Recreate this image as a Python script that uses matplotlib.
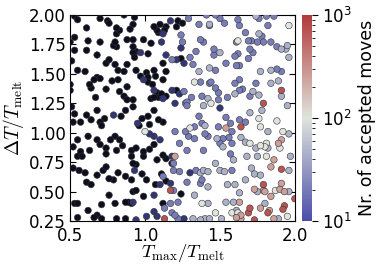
import numpy as np
import matplotlib
matplotlib.use('Agg')
import matplotlib.pyplot as plt
from matplotlib.colors import LinearSegmentedColormap, LogNorm
import matplotlib.cm as cm

plt.rcParams['mathtext.fontset'] = 'cm'

# category -> number of accepted moves (approximate, read from colour)
level = {'k': 1.5, 'n': 5, 'b': 20, 'l': 45, 'g': 100, 'p': 250, 'r': 700}

# (T_max/T_melt, dT/T_melt, colour category)
pts = [
    (0.53, 1.99, 'k'), (0.55, 1.96, 'k'), (0.50, 1.77, 'k'), (0.53, 1.81, 'k'), (0.62, 1.78, 'k'),
    (0.61, 1.89, 'k'), (0.70, 1.97, 'k'), (0.75, 1.95, 'k'), (0.76, 1.93, 'k'), (0.81, 1.89, 'k'),
    (0.83, 1.87, 'k'), (0.81, 1.84, 'k'), (0.86, 2.00, 'k'), (0.93, 1.98, 'k'), (0.90, 1.88, 'k'),
    (0.80, 1.77, 'k'), (0.79, 1.74, 'k'), (0.81, 1.73, 'k'), (0.70, 1.77, 'k'), (0.92, 1.79, 'k'),
    (0.92, 1.73, 'k'), (0.99, 1.79, 'k'), (1.06, 1.90, 'k'), (1.08, 1.87, 'k'), (1.09, 1.85, 'k'),
    (1.10, 1.92, 'k'), (1.13, 1.87, 'k'), (1.12, 1.84, 'n'), (1.14, 1.90, 'k'), (1.17, 1.95, 'n'),
    (1.22, 1.95, 'k'), (1.25, 1.93, 'k'), (1.11, 1.77, 'n'), (1.04, 1.76, 'k'), (0.97, 1.68, 'n'),
    (0.94, 1.69, 'k'), (0.53, 1.70, 'k'), (0.51, 1.61, 'k'), (0.55, 1.53, 'k'), (0.60, 1.52, 'k'),
    (0.68, 1.66, 'k'), (0.74, 1.59, 'k'), (0.76, 1.62, 'k'), (0.70, 1.46, 'k'), (0.68, 1.47, 'k'),
    (0.80, 1.58, 'k'), (0.82, 1.53, 'k'), (0.86, 1.52, 'k'), (0.92, 1.68, 'k'), (0.94, 1.53, 'k'),
    (1.01, 1.51, 'k'), (1.02, 1.47, 'k'), (1.06, 1.53, 'k'), (1.07, 1.48, 'k'), (1.12, 1.45, 'k'),
    (1.12, 1.59, 'k'), (1.14, 1.52, 'k'), (1.14, 1.66, 'n'), (1.21, 1.62, 'n'), (1.24, 1.63, 'k'),
    (1.26, 1.59, 'n'), (0.50, 1.36, 'k'), (0.63, 1.41, 'k'), (0.64, 1.38, 'k'), (0.66, 1.45, 'k'),
    (0.74, 1.37, 'k'), (0.78, 1.44, 'k'), (0.82, 1.45, 'k'), (0.83, 1.35, 'k'), (0.86, 1.31, 'k'),
    (0.88, 1.28, 'k'), (0.92, 1.28, 'k'), (0.88, 1.39, 'k'), (0.97, 1.48, 'k'), (0.99, 1.45, 'n'),
    (1.02, 1.43, 'k'), (1.05, 1.41, 'k'), (1.06, 1.36, 'n'), (1.08, 1.34, 'k'), (1.04, 1.29, 'k'),
    (1.06, 1.30, 'k'), (1.09, 1.30, 'k'), (1.12, 1.29, 'n'), (1.14, 1.31, 'k'), (1.21, 1.36, 'k'),
    (1.23, 1.33, 'n'), (1.20, 1.25, 'n'), (1.28, 1.23, 'b'), (0.51, 1.22, 'k'), (0.53, 1.16, 'k'),
    (0.52, 1.09, 'k'), (0.57, 1.09, 'k'), (0.61, 1.15, 'k'), (0.64, 1.11, 'k'), (0.68, 1.19, 'k'),
    (0.70, 1.09, 'k'), (0.73, 1.12, 'k'), (0.71, 1.06, 'k'), (0.79, 1.15, 'n'), (0.84, 1.14, 'k'),
    (0.87, 1.19, 'k'), (0.92, 1.22, 'k'), (0.95, 1.08, 'n'), (0.96, 1.06, 'k'), (0.98, 1.12, 'k'),
    (1.02, 1.14, 'k'), (1.06, 1.19, 'k'), (1.12, 1.09, 'k'), (1.00, 1.01, 'g'), (1.03, 0.99, 'n'),
    (1.06, 0.97, 'n'), (0.55, 0.94, 'k'), (0.62, 0.97, 'k'), (0.63, 0.85, 'k'), (0.57, 0.84, 'k'),
    (0.55, 0.80, 'k'), (0.58, 0.80, 'k'), (0.68, 0.94, 'k'), (0.74, 0.87, 'k'), (0.74, 0.82, 'k'),
    (0.80, 0.97, 'k'), (0.83, 0.94, 'k'), (0.81, 0.85, 'k'), (0.91, 0.85, 'k'), (0.94, 0.87, 'k'),
    (0.99, 0.84, 'k'), (0.99, 0.80, 'k'), (1.03, 0.86, 'k'), (1.18, 0.74, 'k'), (1.20, 0.80, 'p'),
    (0.52, 0.70, 'k'), (0.56, 0.68, 'k'), (0.60, 0.66, 'k'), (0.61, 0.58, 'k'), (0.64, 0.56, 'k'),
    (0.68, 0.64, 'k'), (0.72, 0.68, 'k'), (0.76, 0.61, 'k'), (0.79, 0.60, 'k'), (0.92, 0.74, 'k'),
    (0.94, 0.73, 'k'), (0.93, 0.68, 'n'), (0.98, 0.65, 'k'), (1.01, 0.60, 'k'), (0.94, 0.51, 'k'),
    (0.92, 0.50, 'k'), (1.07, 0.56, 'k'), (1.11, 0.65, 'k'), (1.14, 0.59, 'k'), (1.17, 0.57, 'n'),
    (1.17, 0.51, 'r'), (1.19, 0.51, 'b'), (1.24, 0.48, 'k'), (0.53, 0.40, 'k'), (0.55, 0.40, 'k'),
    (0.55, 0.28, 'k'), (0.62, 0.34, 'k'), (0.66, 0.28, 'k'), (0.68, 0.30, 'k'), (0.76, 0.47, 'k'),
    (0.80, 0.40, 'k'), (0.81, 0.27, 'k'), (0.87, 0.27, 'k'), (0.87, 0.41, 'k'), (0.89, 0.41, 'k'),
    (0.91, 0.40, 'k'), (0.92, 0.41, 'n'), (0.94, 0.26, 'n'), (1.01, 0.29, 'n'), (1.06, 0.47, 'n'),
    (1.06, 0.33, 'n'), (1.08, 0.29, 'n'), (1.12, 0.40, 'k'), (1.13, 0.36, 'b'), (1.13, 0.27, 'r'),
    (1.17, 0.40, 'b'), (1.20, 0.30, 'b'), (1.22, 0.27, 'b'), (1.26, 0.27, 'n'),
    # extra black-region points
    (0.92, 1.92, 'k'), (0.88, 1.79, 'k'), (1.02, 1.67, 'k'), (0.61, 1.70, 'k'), (0.93, 1.64, 'k'),
    (0.88, 1.58, 'k'), (0.50, 1.41, 'k'), (0.67, 1.30, 'k'), (1.11, 1.33, 'k'), (1.18, 1.36, 'n'),
    (1.09, 1.11, 'k'), (1.03, 1.07, 'k'), (1.10, 0.94, 'n'), (0.52, 0.88, 'k'), (0.70, 0.90, 'k'),
    (0.77, 0.94, 'k'), (0.85, 0.89, 'k'), (0.91, 0.80, 'k'), (1.06, 0.90, 'k'), (1.08, 0.77, 'k'),
    (1.12, 0.81, 'k'), (1.18, 0.80, 'n'), (1.14, 0.78, 'k'), (0.74, 0.71, 'k'), (0.82, 0.66, 'k'),
    (0.87, 0.63, 'k'), (0.91, 0.60, 'k'), (0.71, 0.39, 'k'), (0.71, 0.27, 'k'), (0.99, 0.46, 'k'),
    (1.21, 1.90, 'k'), (1.10, 0.56, 'n'),
    # coloured region
    (1.36, 1.92, 'b'), (1.43, 1.92, 'l'), (1.41, 2.00, 'b'), (1.47, 2.00, 'b'), (1.50, 1.97, 'b'),
    (1.53, 1.93, 'b'), (1.43, 1.91, 'b'), (1.37, 1.79, 'b'), (1.39, 1.77, 'b'), (1.29, 1.97, 'b'),
    (1.25, 1.77, 'b'), (1.24, 1.83, 'b'), (1.62, 1.96, 'b'), (1.63, 1.91, 'b'), (1.74, 1.99, 'l'),
    (1.76, 1.97, 'b'), (1.81, 1.99, 'b'), (1.86, 1.99, 'b'), (1.96, 1.91, 'g'), (1.82, 1.91, 'b'),
    (1.67, 1.85, 'b'), (1.76, 1.84, 'l'), (1.78, 1.82, 'b'), (1.62, 1.78, 'g'), (1.61, 1.77, 'b'),
    (1.69, 1.78, 'b'), (1.71, 1.78, 'b'), (1.75, 1.77, 'b'), (1.79, 1.77, 'b'), (1.84, 1.77, 'b'),
    (1.88, 1.73, 'b'), (1.91, 1.71, 'l'), (1.94, 1.71, 'l'), (1.95, 1.74, 'l'), (1.96, 1.64, 'l'),
    (1.34, 1.69, 'b'), (1.30, 1.64, 'b'), (1.32, 1.58, 'b'), (1.24, 1.72, 'n'), (1.18, 1.62, 'b'),
    (1.46, 1.71, 'b'), (1.50, 1.68, 'l'), (1.46, 1.66, 'b'), (1.43, 1.55, 'l'), (1.47, 1.53, 'b'),
    (1.54, 1.59, 'b'), (1.60, 1.65, 'b'), (1.62, 1.67, 'b'), (1.70, 1.71, 'b'), (1.72, 1.68, 'b'),
    (1.69, 1.63, 'b'), (1.61, 1.57, 'b'), (1.63, 1.57, 'b'), (1.77, 1.52, 'l'), (1.84, 1.53, 'l'),
    (1.88, 1.54, 'b'), (1.91, 1.52, 'b'), (1.84, 1.42, 'l'), (1.89, 1.44, 'l'), (1.36, 1.52, 'l'),
    (1.33, 1.43, 'g'), (1.43, 1.42, 'b'), (1.47, 1.38, 'b'), (1.49, 1.34, 'b'), (1.49, 1.28, 'b'),
    (1.42, 1.29, 'l'), (1.38, 1.31, 'b'), (1.31, 1.30, 'b'), (1.44, 1.25, 'g'), (1.50, 1.21, 'n'),
    (1.60, 1.42, 'b'), (1.63, 1.36, 'b'), (1.63, 1.45, 'b'), (1.65, 1.37, 'b'), (1.60, 1.33, 'l'),
    (1.55, 1.30, 'b'), (1.70, 1.31, 'b'), (1.76, 1.32, 'l'), (1.79, 1.25, 'r'), (1.78, 1.19, 'l'),
    (1.91, 1.36, 'r'), (1.91, 1.31, 'l'), (1.95, 1.23, 'l'), (1.37, 1.43, 'b'), (1.44, 1.43, 'b'),
    (1.28, 1.26, 'b'), (1.39, 1.23, 'l'), (1.72, 1.35, 'l'), (1.74, 1.42, 'b'), (1.26, 1.35, 'b'),
    (1.27, 1.25, 'b'),
    (1.36, 1.14, 'b'), (1.38, 1.08, 'b'), (1.40, 1.06, 'l'), (1.33, 1.05, 'b'), (1.30, 1.04, 'g'),
    (1.27, 1.01, 'b'), (1.20, 1.01, 'b'), (1.49, 1.05, 'b'), (1.54, 1.04, 'p'), (1.54, 1.13, 'b'),
    (1.63, 1.11, 'b'), (1.64, 1.05, 'r'), (1.67, 1.09, 'b'), (1.58, 1.01, 'b'), (1.70, 1.17, 'l'),
    (1.76, 1.12, 'g'), (1.88, 1.10, 'g'), (1.82, 1.01, 'l'), (1.92, 1.01, 'g'), (1.96, 0.99, 'l'),
    (1.40, 0.99, 'b'), (1.57, 1.08, 'b'), (1.77, 1.05, 'g'),
    (1.33, 0.95, 'b'), (1.42, 0.97, 'b'), (1.48, 0.95, 'l'), (1.50, 0.91, 'b'), (1.52, 0.88, 'l'),
    (1.52, 0.95, 'b'), (1.64, 0.96, 'l'), (1.67, 0.92, 'l'), (1.70, 0.91, 'g'), (1.74, 0.87, 'l'),
    (1.77, 0.89, 'g'), (1.80, 0.88, 'g'), (1.82, 0.87, 'l'), (1.91, 0.94, 'p'), (1.90, 0.87, 'g'),
    (1.23, 0.91, 'b'), (1.57, 0.82, 'b'), (1.59, 0.77, 'l'), (1.75, 0.80, 'l'), (1.81, 0.80, 'g'),
    (1.86, 0.77, 'p'), (1.29, 0.97, 'b'), (1.56, 0.96, 'b'), (1.58, 0.91, 'b'), (1.81, 0.91, 'g'),
    (1.89, 0.91, 'p'), (1.28, 0.85, 'b'), (1.39, 0.85, 'b'), (1.68, 0.80, 'l'), (1.97, 0.80, 'l'),
    (1.30, 0.66, 'n'), (1.34, 0.68, 'b'), (1.37, 0.66, 'l'), (1.39, 0.68, 'l'), (1.42, 0.67, 'l'),
    (1.38, 0.60, 'b'), (1.37, 0.57, 'b'), (1.42, 0.54, 'l'), (1.47, 0.74, 'l'), (1.53, 0.67, 'l'),
    (1.58, 0.68, 'b'), (1.55, 0.56, 'l'), (1.60, 0.56, 'l'), (1.63, 0.49, 'l'), (1.73, 0.65, 'l'),
    (1.77, 0.64, 'l'), (1.84, 0.71, 'p'), (1.91, 0.69, 'r'), (1.96, 0.68, 'l'), (1.79, 0.56, 'r'),
    (1.73, 0.52, 'p'), (1.75, 0.50, 'l'), (1.79, 0.51, 'p'), (1.80, 0.50, 'p'), (1.91, 0.57, 'p'),
    (1.90, 0.52, 'p'), (1.93, 0.50, 'p'), (1.84, 0.46, 'p'), (1.19, 0.68, 'b'), (1.23, 0.67, 'b'),
    (1.12, 0.63, 'b'), (1.19, 0.74, 'b'), (1.50, 0.68, 'l'), (1.67, 0.60, 'l'), (1.71, 0.70, 'l'),
    (1.87, 0.51, 'g'), (1.28, 0.58, 'b'), (1.33, 0.47, 'l'), (1.96, 0.50, 'l'),
    (1.38, 0.40, 'g'), (1.42, 0.40, 'l'), (1.47, 0.32, 'g'), (1.43, 0.27, 'l'), (1.32, 0.27, 'l'),
    (1.37, 0.26, 'l'), (1.51, 0.27, 'l'), (1.54, 0.41, 'l'), (1.59, 0.41, 'l'), (1.63, 0.41, 'p'),
    (1.58, 0.32, 'g'), (1.61, 0.34, 'l'), (1.62, 0.32, 'g'), (1.64, 0.30, 'p'), (1.61, 0.28, 'p'),
    (1.64, 0.27, 'p'), (1.69, 0.32, 'r'), (1.73, 0.26, 'r'), (1.70, 0.36, 'r'), (1.77, 0.36, 'p'),
    (1.82, 0.32, 'r'), (1.80, 0.40, 'l'), (1.83, 0.34, 'p'), (1.86, 0.27, 'p'), (1.93, 0.38, 'r'),
    (1.92, 0.35, 'r'), (2.00, 0.44, 'r'), (1.89, 0.27, 'l'), (1.95, 0.29, 'g'), (1.22, 0.41, 'b'),
    (1.40, 0.27, 'l'), (1.18, 0.32, 'b'),
]

t_max = np.array([p[0] for p in pts])
delta_t = np.array([p[1] for p in pts])
moves = np.array([level[p[2]] for p in pts])

blue = '#4a4ea8'
mid = '#dfe4dc'
red = '#b23a3a'
cmap_bar = LinearSegmentedColormap.from_list('bwr_m', [blue, mid, red])
cmap_pts = LinearSegmentedColormap.from_list('kbwr_m', [(0, 'black'), (1/3, blue), (2/3, mid), (1, red)])

fig = plt.figure(figsize=(3.81, 2.67), dpi=100)
ax = fig.add_axes([0.184, 0.172, 0.590, 0.772])
cax = fig.add_axes([0.793, 0.172, 0.026, 0.772])

order = np.argsort(moves)
ax.scatter(t_max[order], delta_t[order], c=moves[order], cmap=cmap_pts,
           norm=LogNorm(1, 1000), s=22, edgecolors='#333333', linewidths=0.4, zorder=3)

ax.set_xlim(0.5, 2.0)
ax.set_ylim(0.25, 2.0)
ax.set_xticks([0.5, 1.0, 1.5, 2.0])
ax.set_yticks([0.25, 0.5, 0.75, 1.0, 1.25, 1.5, 1.75, 2.0])
ax.set_yticklabels(['0.25', '0.50', '0.75', '1.00', '1.25', '1.50', '1.75', '2.00'])
ax.tick_params(direction='in', top=True, right=True, labelsize=12, length=4, pad=3)
ax.tick_params(axis='x', pad=4)
ax.set_xlabel(r'$T_{\rm max}/T_{\rm melt}$', fontsize=13.5, labelpad=-2)
ax.set_ylabel(r'$\Delta T/T_{\rm melt}$', fontsize=14, labelpad=2)

sm = cm.ScalarMappable(norm=LogNorm(10, 1000), cmap=cmap_bar)
cb = fig.colorbar(sm, cax=cax)
cb.outline.set_visible(False)
cb.ax.tick_params(labelsize=12, length=4, which='major')
cb.ax.tick_params(length=2, which='minor')
cb.set_label('Nr. of accepted moves', fontsize=12.5, labelpad=4)

fig.savefig('out.png', dpi=100)
